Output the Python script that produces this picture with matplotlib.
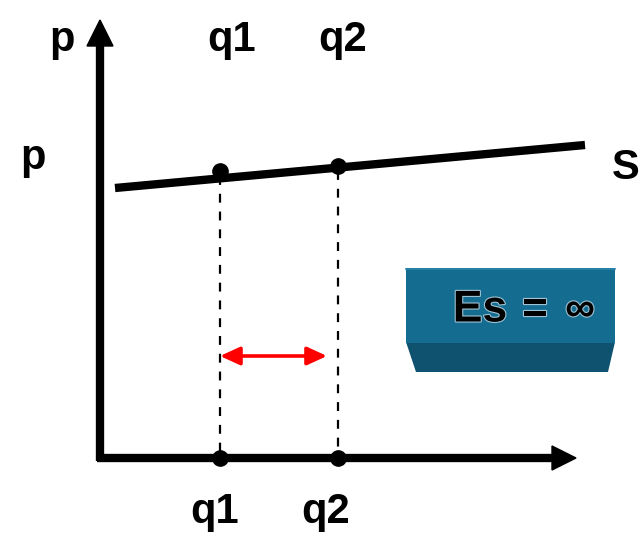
import matplotlib.pyplot as plt
from matplotlib.patches import Polygon, FancyArrowPatch
import matplotlib.patheffects as pe

# Perfectly elastic supply: quantity changes with price held (almost) flat
q_labels = ["q1", "q2"]
q_pos = [220, 338]              # quantities on the horizontal axis
supply_x = [115, 585]           # supply curve end points
supply_y = [188, 145]
supply_pts_y = [171, 166]       # marked points on the supply curve
price_labels = ["p", "p"]

fig = plt.figure(figsize=(6.4, 5.39), dpi=100)
ax = fig.add_axes([0, 0, 1, 1])
ax.set_xlim(0, 640)
ax.set_ylim(539, 0)
ax.axis('off')

font = dict(family='Liberation Sans', fontweight='bold', fontsize=30, color='black')

# axes with arrow heads
ax.plot([100, 100], [461, 44], color='black', lw=6, solid_capstyle='butt')
ax.add_patch(Polygon([[87, 46], [113, 46], [100, 20]], closed=True, color='black'))
ax.plot([97, 555], [458, 458], color='black', lw=6, solid_capstyle='butt')
ax.add_patch(Polygon([[552, 446], [552, 470], [576, 458]], closed=True, color='black'))

# supply curve
ax.plot(supply_x, supply_y, color='black', lw=6, solid_capstyle='butt')

# dashed drop lines and dots
for x, y in zip(q_pos, supply_pts_y):
    ax.plot([x, x], [y + 5, 458], color='black', lw=1.6, linestyle=(0, (4, 4)))
    ax.plot(x, y, 'o', color='black', ms=11)
    ax.plot(x, 458, 'o', color='black', ms=11)

# red double-headed arrow between q1 and q2
ax.add_patch(FancyArrowPatch((q_pos[0], 356), (q_pos[1] - 11, 356),
                             arrowstyle='<|-|>,head_length=12,head_width=5.5',
                             color='red', lw=2.6, mutation_scale=1,
                             shrinkA=0, shrinkB=0))

# labels
ax.text(62, 40, price_labels[0], ha='center', va='center', **font)
ax.text(33, 158, price_labels[1], ha='center', va='center', **font)
for x, lab in zip([232, 343], q_labels):
    ax.text(x, 40, lab, ha='center', va='center', **font)
for x, lab in zip([215, 326], q_labels):
    ax.text(x, 512, lab, ha='center', va='center', **font)
ax.text(612, 168, "S", ha='left', va='center', **font)

# Es = infinity badge
ax.add_patch(Polygon([[406, 342], [615, 342], [608, 372], [416, 372]],
                     closed=True, facecolor='#0f5270', edgecolor='none'))
ax.add_patch(Polygon([[406, 268], [615, 268], [615, 343], [406, 343]],
                     closed=True, facecolor='#156c91', edgecolor='none'))
ax.plot([406, 615], [268.5, 268.5], color='#2a86ad', lw=1.2)
glow = [pe.withStroke(linewidth=1.6, foreground='#9fc3d4')]
ax.text(480, 310, "Es", ha='center', va='center', family='Liberation Sans',
        fontweight='bold', fontsize=32, color='black', path_effects=glow)
ax.text(535, 311, "=", ha='center', va='center', family='Liberation Sans',
        fontweight='bold', fontsize=32, color='black', path_effects=glow)
ax.text(580, 310, "∞", ha='center', va='center',
        family=['Liberation Sans', 'DejaVu Sans'], fontweight='bold',
        fontsize=30, color='black', path_effects=glow)

fig.savefig('out.png', dpi=100)
